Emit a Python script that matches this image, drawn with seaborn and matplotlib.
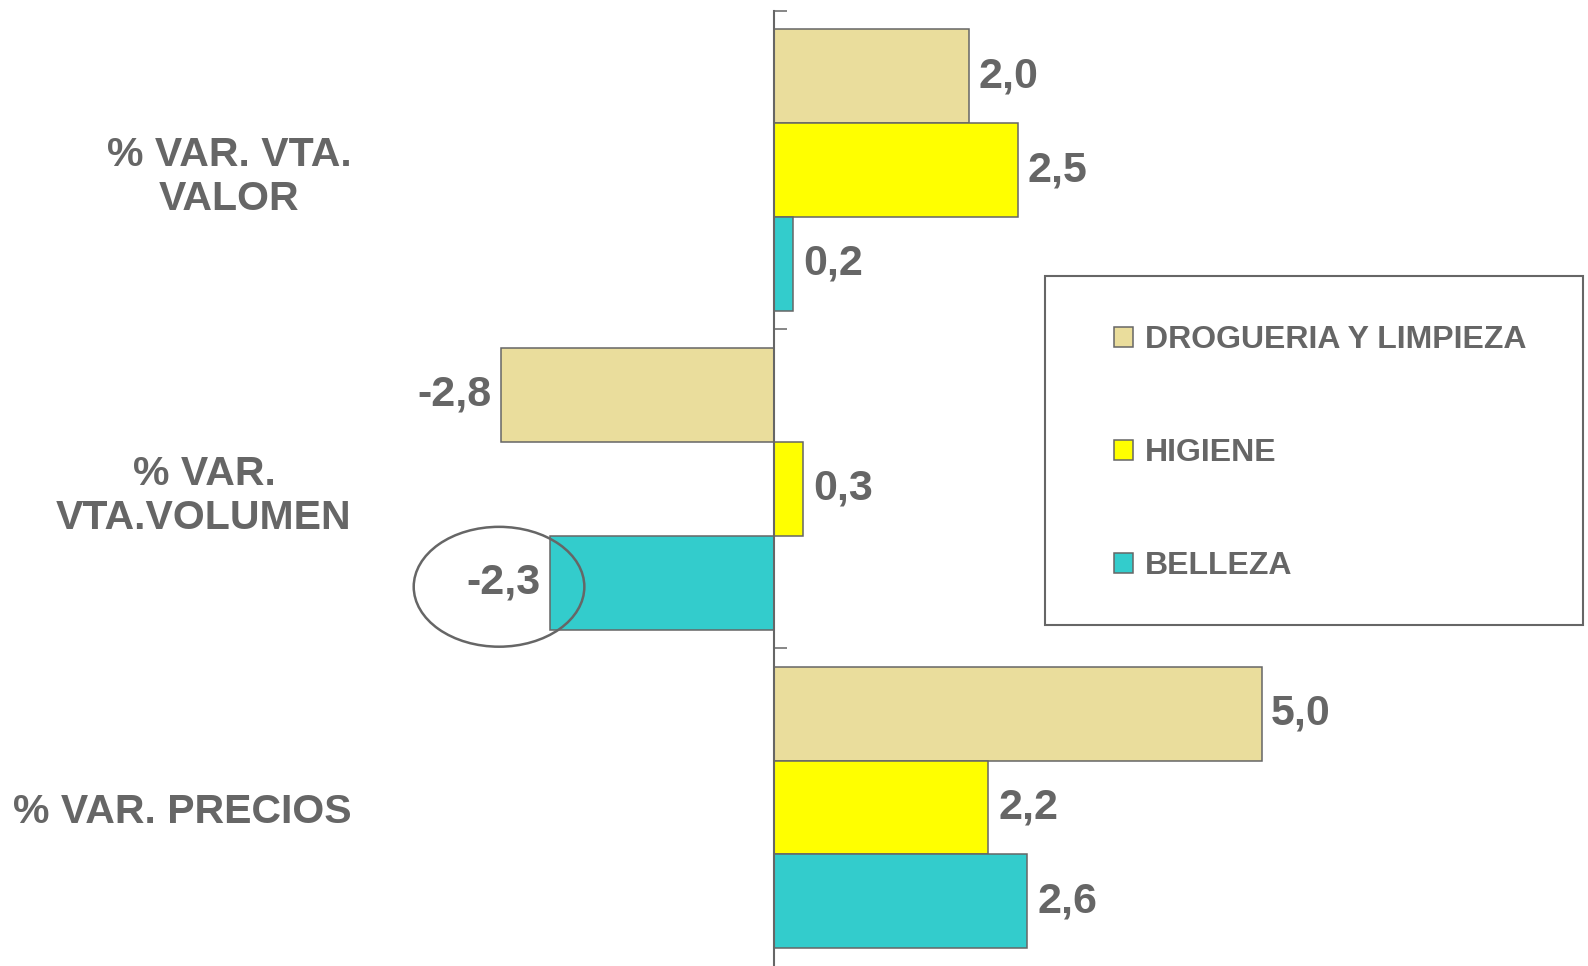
import numpy as np
import pandas as pd
import matplotlib
matplotlib.use("Agg")
import matplotlib.pyplot as plt
from matplotlib.patches import Ellipse, Rectangle
import seaborn as sns

# =========================
# Data
# =========================
categorias = ["% VAR. VTA.\nVALOR", "% VAR.\nVTA.VOLUMEN", "% VAR. PRECIOS"]
series = ["DROGUERIA Y LIMPIEZA", "HIGIENE", "BELLEZA"]
drogueria = [2.0, -2.8, 5.0]
higiene = [2.5, 0.3, 2.2]
belleza = [0.2, -2.3, 2.6]
colores = ["#EADD9C", "#FFFF00", "#33CCCC"]

gris = "#666666"

df = pd.DataFrame({
    "categoria": categorias * 3,
    "serie": np.repeat(series, 3),
    "valor": drogueria + higiene + belleza,
})

# =========================
# Plot
# =========================
sns.set_style("white")
plt.rcParams["font.family"] = ["Liberation Sans", "DejaVu Sans"]
plt.rcParams["font.weight"] = "bold"

fig = plt.figure(figsize=(15.88, 9.66), dpi=100)
ax = fig.add_axes([0.2418, -0.001, 0.7368, 0.990])

sns.barplot(data=df, x="valor", y="categoria", hue="serie", orient="h",
            order=categorias, hue_order=series, palette=colores, saturation=1,
            width=0.883, edgecolor=gris, linewidth=1.1, errorbar=None,
            legend=False, ax=ax)

ax.set_xlim(-4, 8)
ax.set_ylim(2.5, -0.5)
ax.set_xlabel("")
ax.set_ylabel("")

# axis line through zero
for s in ["top", "right", "bottom"]:
    ax.spines[s].set_visible(False)
ax.spines["left"].set_position(("data", 0))
ax.spines["left"].set_color(gris)
ax.spines["left"].set_linewidth(1.5)
ax.set_xticks([])

ax.set_yticks(range(len(categorias)))
ax.set_yticklabels(categorias, fontsize=29.5, fontweight="bold", color=gris,
                   ha="right", multialignment="center")
ax.set_yticks(np.arange(len(categorias) + 1) - 0.5, minor=True)
ax.tick_params(axis="y", which="major", left=True, direction="in", length=7.5,
               width=1.1, color=gris, pad=304)
ax.tick_params(axis="y", which="minor", left=True, direction="in", length=9,
               width=1.1, color=gris)

# value labels
for cont in ax.containers:
    ax.bar_label(cont, fmt=lambda v: f"{v:.1f}".replace(".", ","),
                 padding=7, fontsize=31, fontweight="bold", color=gris)

# ellipse around BELLEZA volumen label
rect = ax.containers[2][1]
yc = rect.get_y() + rect.get_height() / 2
ax.add_patch(Ellipse((belleza[1] - 0.52, yc + 0.013), 1.75, 0.376,
                     fill=False, edgecolor=gris, linewidth=1.8,
                     clip_on=False, zorder=5))

# legend (box drawn separately for asymmetric padding)
leg = ax.legend(handles=ax.containers, labels=series, loc="center left",
                bbox_to_anchor=(0.7015, 0.531), bbox_transform=fig.transFigure,
                borderaxespad=0, borderpad=0, frameon=False,
                prop={"size": 23, "weight": "bold"}, labelcolor=gris,
                handlelength=0.58, handleheight=0.58, handletextpad=0.4,
                labelspacing=2.6)
fig.add_artist(Rectangle((0.6581, 0.353), 0.3388, 0.3613, transform=fig.transFigure,
                         fill=False, edgecolor=gris, linewidth=1.5))

plt.savefig("out.png", dpi=100)
